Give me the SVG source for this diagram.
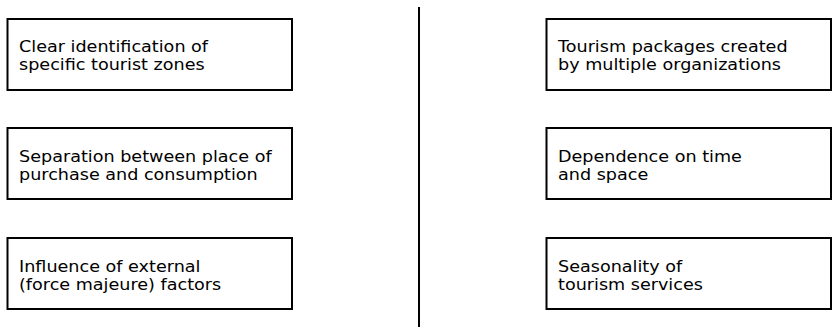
<svg xmlns="http://www.w3.org/2000/svg" width="836" height="327" viewBox="0 0 836 327">
<style>
.box{fill:#fff;stroke:#000;stroke-width:2}
.t{font-family:"DejaVu Sans",sans-serif;font-size:15.4px;fill:#000}
.line{stroke:#000;stroke-width:2;fill:none}
</style>
<rect width="836" height="327" fill="#fff"/>
<g id="connectors"><line class="line" x1="419" y1="7" x2="419" y2="327"/></g>
<g id="n1"><rect class="box" x="7.5" y="19" width="284.5" height="71"/><text class="t" transform="translate(19,52) scale(1.143,1)">Clear identification of</text><text class="t" transform="translate(19,70) scale(1.143,1)">specific tourist zones</text></g>
<g id="n2"><rect class="box" x="7.5" y="128" width="284.5" height="71"/><text class="t" transform="translate(19,161.5) scale(1.143,1)">Separation between place of</text><text class="t" transform="translate(19,179.5) scale(1.143,1)">purchase and consumption</text></g>
<g id="n3"><rect class="box" x="7.5" y="238" width="284.5" height="71"/><text class="t" transform="translate(19,271.5) scale(1.143,1)">Influence of external</text><text class="t" transform="translate(19,289.5) scale(1.143,1)">(force majeure) factors</text></g>
<g id="n4"><rect class="box" x="546.5" y="19" width="284.5" height="71"/><text class="t" transform="translate(558,52) scale(1.143,1)">Tourism packages created</text><text class="t" transform="translate(558,70) scale(1.143,1)">by multiple organizations</text></g>
<g id="n5"><rect class="box" x="546.5" y="128" width="284.5" height="71"/><text class="t" transform="translate(558,161.5) scale(1.143,1)">Dependence on time</text><text class="t" transform="translate(558,179.5) scale(1.143,1)">and space</text></g>
<g id="n6"><rect class="box" x="546.5" y="238" width="284.5" height="71"/><text class="t" transform="translate(558,271.5) scale(1.143,1)">Seasonality of</text><text class="t" transform="translate(558,289.5) scale(1.143,1)">tourism services</text></g>
</svg>
